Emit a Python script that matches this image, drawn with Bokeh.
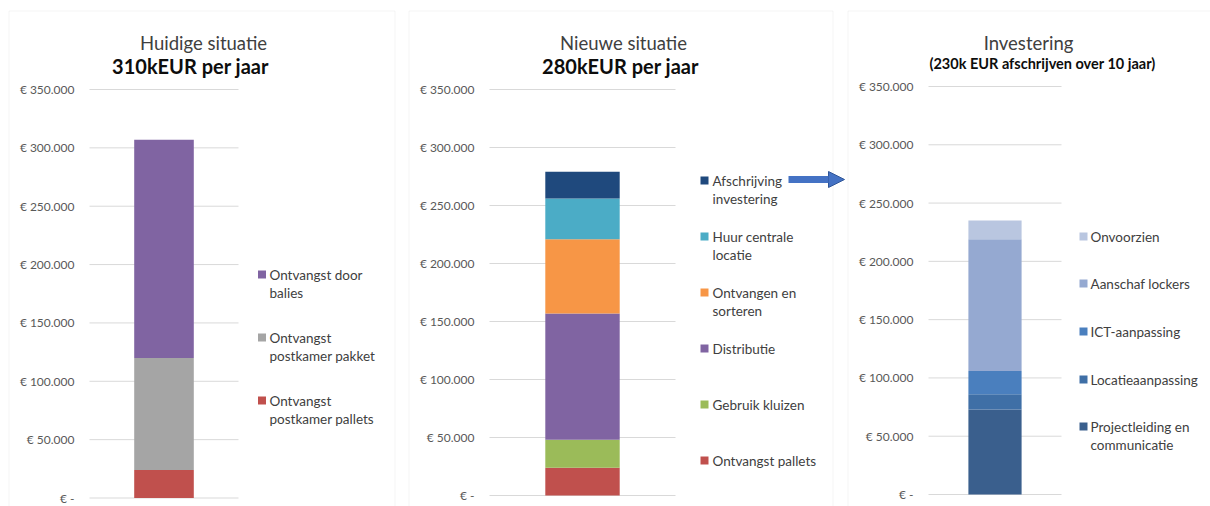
from bokeh.plotting import figure
from bokeh.models import (ColumnDataSource, LinearAxis, FixedTicker, BoxAnnotation,
                          Range1d, Arrow, NormalHead)
from bokeh.layouts import row
from bokeh.core.properties import value
from bokeh.embed import file_html
from bokeh.resources import INLINE

FONT = "Lato"

# ---------------- data ----------------
y_ticks = [0, 50000, 100000, 150000, 200000, 250000, 300000, 350000]
y_tick_labels = ["€ -", "€ 50.000", "€ 100.000", "€ 150.000", "€ 200.000",
                 "€ 250.000", "€ 300.000", "€ 350.000"]

titles_1 = ["Huidige situatie", "310kEUR per jaar"]
series_1 = ["Ontvangst\npostkamer pallets", "Ontvangst\npostkamer pakket", "Ontvangst door\nbalies"]
values_1 = [24000, 96000, 187000]
colors_1 = ["#C0504D", "#A5A5A5", "#8064A2"]

titles_2 = ["Nieuwe situatie", "280kEUR per jaar"]
series_2 = ["Ontvangst pallets", "Gebruik kluizen", "Distributie", "Ontvangen en\nsorteren",
            "Huur centrale\nlocatie", "Afschrijving\ninvestering"]
values_2 = [24000, 24000, 109000, 64000, 35000, 23000]
colors_2 = ["#C0504D", "#9BBB59", "#8064A2", "#F79646", "#4BACC6", "#1F497D"]

titles_3 = ["Investering", "(230k EUR afschrijven over 10 jaar)"]
series_3 = ["Projectleiding en\ncommunicatie", "Locatieaanpassing", "ICT-aanpassing",
            "Aanschaf lockers", "Onvoorzien"]
values_3 = [73000, 13000, 20000, 113000, 16000]
colors_3 = ["#3A5F8D", "#3F6FA6", "#4A7FBE", "#95A9D1", "#B9C6E0"]

# ---------------- layout (page pixels) ----------------
PAGE_TOP, PAGE_BOTTOM = 0, 506
GRID = "#D9D9D9"

layouts = [
    dict(canvas=(0, 401), box=(8.5, 394.5), plot=(89, 238), y=(89, 497.5),
         t1=(203, 42, "18.5px"), t2=(190, 65, "20px"),
         sq_x=261.5, txt_x=269, leg_y=[274, 337, 400]),
    dict(canvas=(401, 845), box=(408.5, 832.5), plot=(489, 675), y=(89, 495),
         t1=(623, 42, "18.5px"), t2=(620, 65, "20px"),
         sq_x=704, txt_x=712, leg_y=[180, 236, 292, 348, 404, 460]),
    dict(canvas=(845, 1210), box=(847.5, 1240), plot=(928, 1061), y=(86, 494),
         t1=(1028, 42, "18.5px"), t2=(1042, 63, "14.5px"),
         sq_x=1083, txt_x=1090, leg_y=[236, 283, 331, 379, 426]),
]


def make_panel(cfg, titles, series, vals, colors, arrow=None):
    cl, cr = cfg["canvas"]
    pl, pr = cfg["plot"]
    yt, yz = cfg["y"]
    unit = pr - pl
    cx = (pl + pr) / 2.0
    ymax = y_ticks[-1]
    k = (yz - yt) / ymax

    def X(px):
        return (px - cx) / unit

    def Y(py):
        return (yz - py) / k

    p = figure(width=cr - cl, height=PAGE_BOTTOM - PAGE_TOP,
               x_range=Range1d(X(cl), X(cr)), y_range=Range1d(Y(PAGE_BOTTOM), Y(PAGE_TOP)),
               x_axis_location=None, y_axis_location=None,
               toolbar_location=None, output_backend="svg", min_border=0)
    p.outline_line_color = None
    p.background_fill_color = "white"
    p.border_fill_color = "white"
    p.grid.visible = False

    # panel border
    bl, br = cfg["box"]
    p.add_layout(BoxAnnotation(left=X(bl), right=X(br), top=Y(10.5), bottom=Y(PAGE_BOTTOM + 30),
                               fill_color=None, fill_alpha=0, line_color=GRID, line_width=1,
                               level="underlay"))

    # gridlines
    p.segment(x0=X(pl), x1=X(pr), y0=y_ticks, y1=y_ticks, line_color=GRID, line_width=1)

    # y axis
    ax = LinearAxis(fixed_location=X(pl), ticker=FixedTicker(ticks=y_ticks),
                    major_label_overrides=dict(zip(y_ticks, y_tick_labels)))
    ax.axis_line_color = None
    ax.major_tick_line_color = None
    ax.minor_tick_line_color = None
    ax.major_label_standoff = 9
    ax.major_label_text_font = FONT
    ax.major_label_text_font_size = "12px"
    ax.major_label_text_color = "#595959"
    p.add_layout(ax, "left")

    # stacked bar
    keys = [f"s{i}" for i in range(len(vals))]
    data = {"x": [0]}
    for key, v in zip(keys, vals):
        data[key] = [v]
    p.vbar_stack(keys, x="x", width=0.4, color=colors, line_color=None,
                 source=ColumnDataSource(data))

    # titles
    x1, b1, s1 = cfg["t1"]
    x2, b2, s2 = cfg["t2"]
    p.text(x=[X(x1)], y=[Y(b1)], text=[titles[0]], text_align="center",
           text_baseline="alphabetic", text_font=value(FONT), text_font_size=s1,
           text_color="#404040")
    p.text(x=[X(x2)], y=[Y(b2)], text=[titles[1]], text_align="center",
           text_baseline="alphabetic", text_font=value(FONT), text_font_size=s2,
           text_font_style="bold", text_color="#0D0D0D")

    # legend (top to bottom = reverse stack order)
    order = list(range(len(series)))[::-1]
    sq_y, sq_c, tx_y, tx_t = [], [], [], []
    for pos, i in enumerate(order):
        yy = cfg["leg_y"][pos]
        sq_y.append(Y(yy))
        sq_c.append(colors[i])
        for j, line in enumerate(series[i].split("\n")):
            tx_y.append(Y(yy + 18.5 * j))
            tx_t.append(line)
    p.scatter(x=[X(cfg["sq_x"])] * len(sq_y), y=sq_y, marker="square", size=8,
              color=sq_c, line_color=None)
    p.text(x=[X(cfg["txt_x"])] * len(tx_y), y=tx_y, text=tx_t, text_align="left",
           text_baseline="middle", text_font=value(FONT), text_font_size="13.5px",
           text_color="#404040")

    if arrow is not None:
        xs, xe, ya = arrow
        p.add_layout(Arrow(x_start=X(xs), y_start=Y(ya), x_end=X(xe), y_end=Y(ya),
                           line_width=7, line_color="#4472C4",
                           end=NormalHead(size=16, fill_color="#4472C4",
                                          line_color="#2F5597", line_width=1)))
    return p


p1 = make_panel(layouts[0], titles_1, series_1, values_1, colors_1)
p2 = make_panel(layouts[1], titles_2, series_2, values_2, colors_2, arrow=(788, 844, 179))
p3 = make_panel(layouts[2], titles_3, series_3, values_3, colors_3)

layout = row(p1, p2, p3, spacing=0)
open("out.html", "w").write(file_html(layout, INLINE))
